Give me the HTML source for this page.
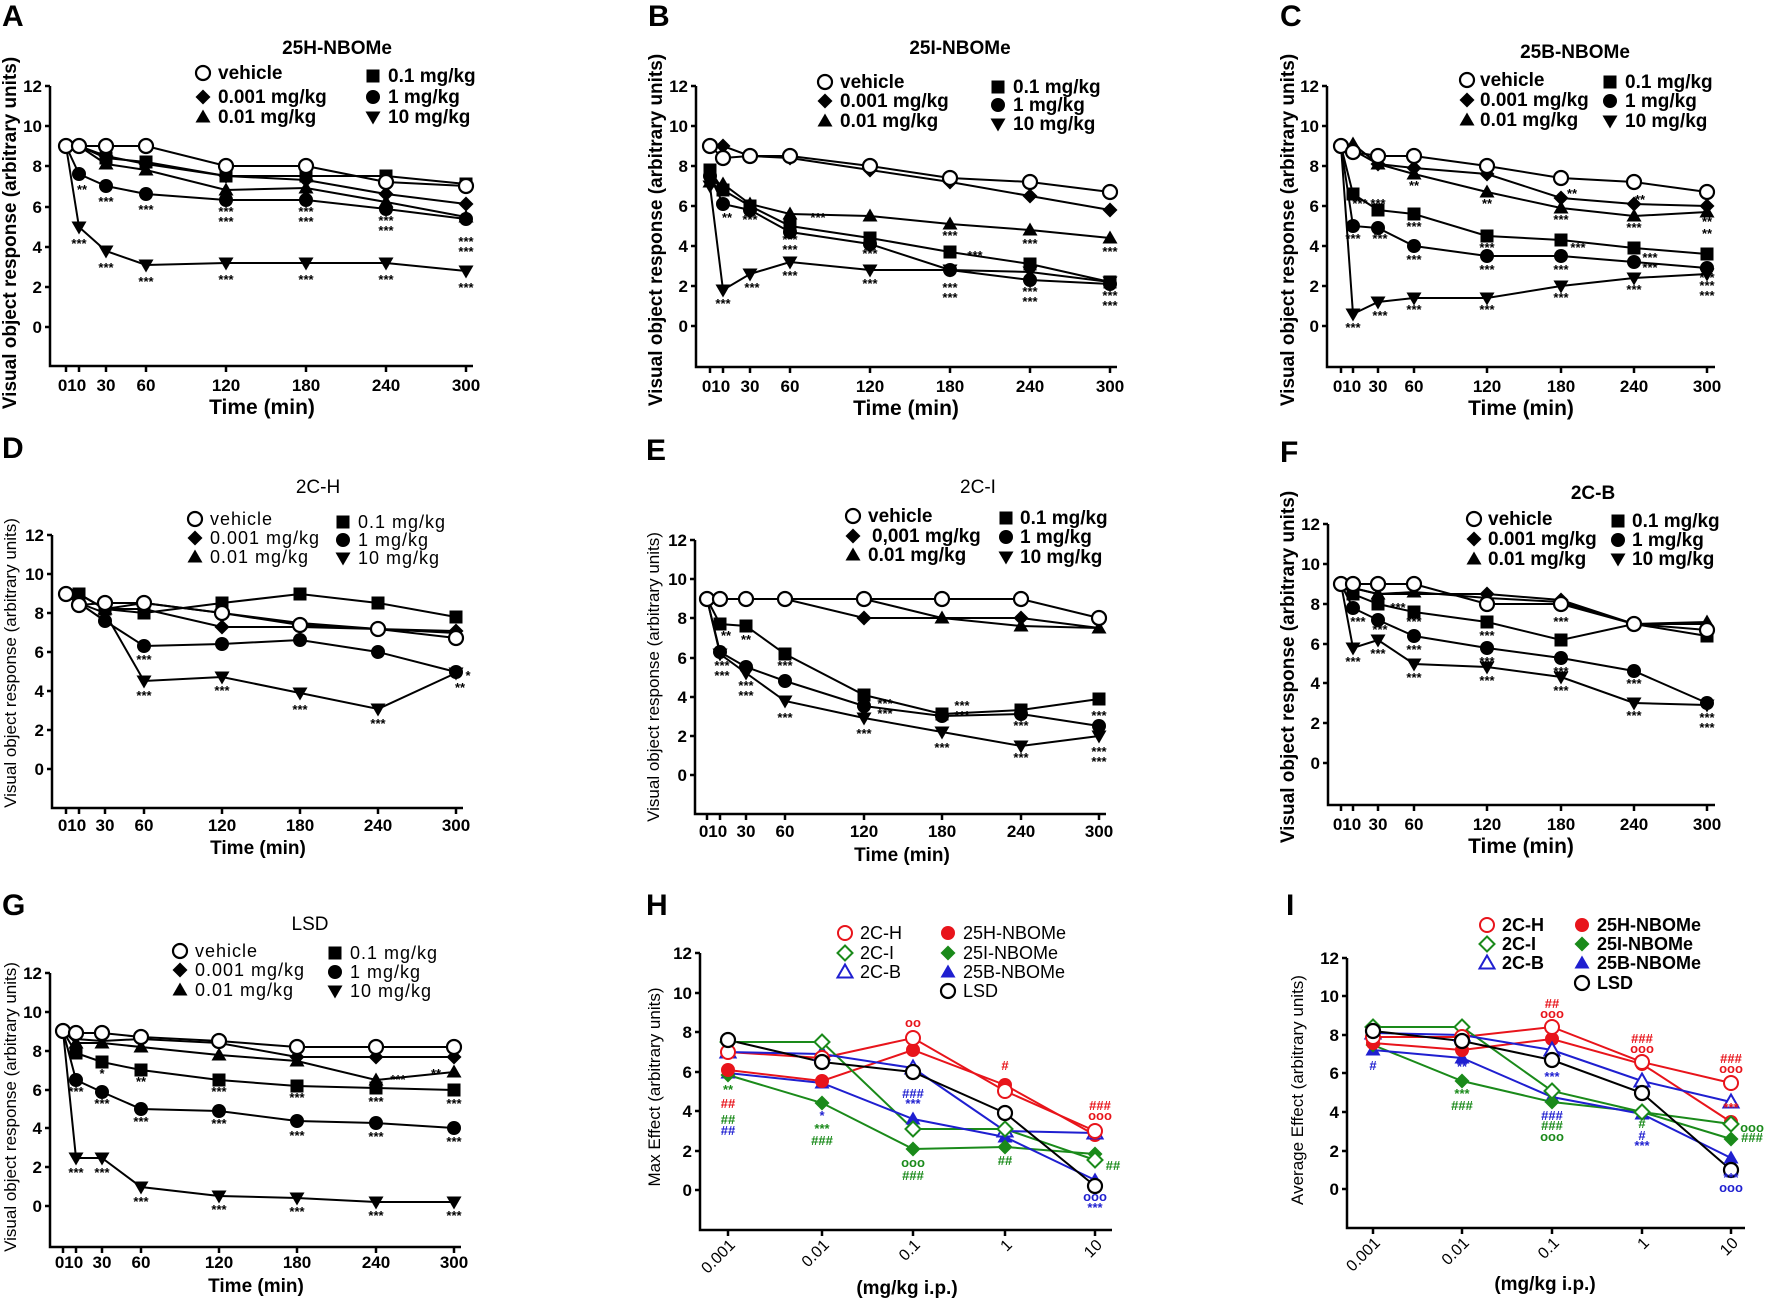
<!DOCTYPE html>
<html><head><meta charset="utf-8"><style>
body{margin:0;background:#fff}
svg{display:block;font-family:"Liberation Sans",Arial,sans-serif}
.ax{fill:none;stroke:#000;stroke-width:2.5}
.ln{fill:none;stroke:#000;stroke-width:2}
.o{fill:#fff;stroke:#000;stroke-width:2.2}
.f{fill:#000}
.tk{font-size:17px;font-weight:bold;text-anchor:end}
.tx{font-size:17px;font-weight:bold;text-anchor:middle}
.xl{font-size:21px;font-weight:bold;text-anchor:middle}
.yl{font-size:19px;font-weight:bold;text-anchor:middle}
.ti{font-size:19px;font-weight:bold;text-anchor:middle}
.lg{font-size:19px;font-weight:bold}
.pl{font-size:30px;font-weight:bold}
.st{font-size:13px;font-weight:bold;text-anchor:middle}
</style></head><body>
<svg width="1772" height="1299" viewBox="0 0 1772 1299" xmlns="http://www.w3.org/2000/svg">
<defs>
<circle id="c" r="7"/>
<path id="d" d="M0,-7.5L7.5,0L0,7.5L-7.5,0Z"/>
<path id="t" d="M0,-7.5L7.5,5.5H-7.5Z"/>
<rect id="s" x="-6.5" y="-6.5" width="13" height="13"/>
<path id="v" d="M0,7.5L7.5,-5.5H-7.5Z"/>
</defs>

<!-- ========== A ========== -->
<text class="pl" x="2" y="26">A</text>
<text class="ti" x="337" y="54">25H-NBOMe</text>
<g class="lg">
<use href="#c" x="203" y="73" class="o"/><text x="218" y="79">vehicle</text>
<use href="#d" x="203" y="97" class="f"/><text x="218" y="103">0.001 mg/kg</text>
<use href="#t" x="203" y="117" class="f"/><text x="218" y="123">0.01 mg/kg</text>
<use href="#s" x="373" y="76" class="f"/><text x="388" y="82">0.1 mg/kg</text>
<use href="#c" x="373" y="97" class="f"/><text x="388" y="103">1 mg/kg</text>
<use href="#v" x="373" y="117" class="f"/><text x="388" y="123">10 mg/kg</text>
</g>
<path class="ax" d="M50,86V366H473M45,86H50M45,126H50M45,166H50M45,207H50M45,247H50M45,287H50M45,327H50M66,366v6M79,366v6M106,366v6M146,366v6M226,366v6M306,366v6M386,366v6M466,366v6"/>
<g class="tk"><text x="42" y="92">12</text><text x="42" y="132">10</text><text x="42" y="172">8</text><text x="42" y="213">6</text><text x="42" y="253">4</text><text x="42" y="293">2</text><text x="42" y="333">0</text></g>
<g class="tx"><text x="72" y="391">010</text><text x="106" y="391">30</text><text x="146" y="391">60</text><text x="226" y="391">120</text><text x="306" y="391">180</text><text x="386" y="391">240</text><text x="466" y="391">300</text></g>
<text class="xl" x="262" y="414">Time (min)</text>
<text class="yl" transform="translate(16,233) rotate(-90)">Visual object response (arbitrary units)</text>
<g class="ln">
<polyline points="66,146 79,227 106,251 146,265 226,263 306,263 386,263 466,271"/>
<polyline points="66,146 79,174 106,186 146,194 226,200 306,200 386,209 466,219"/>
<polyline points="66,146 79,146 106,164 146,170 226,190 306,188 386,202 466,217"/>
<polyline points="66,146 79,146 106,156 146,164 226,176 306,180 386,194 466,204"/>
<polyline points="66,146 79,146 106,158 146,162 226,176 306,176 386,176 466,184"/>
<polyline points="66,146 79,146 106,146 146,146 226,166 306,166 386,182 466,186"/>
</g>
<g class="f">
<use href="#v" x="79" y="227"/><use href="#v" x="106" y="251"/><use href="#v" x="146" y="265"/><use href="#v" x="226" y="263"/><use href="#v" x="306" y="263"/><use href="#v" x="386" y="263"/><use href="#v" x="466" y="271"/>
<use href="#c" x="79" y="174"/><use href="#c" x="106" y="186"/><use href="#c" x="146" y="194"/><use href="#c" x="226" y="200"/><use href="#c" x="306" y="200"/><use href="#c" x="386" y="209"/><use href="#c" x="466" y="219"/>
<use href="#t" x="106" y="164"/><use href="#t" x="146" y="170"/><use href="#t" x="226" y="190"/><use href="#t" x="306" y="188"/><use href="#t" x="386" y="202"/><use href="#t" x="466" y="217"/>
<use href="#d" x="106" y="156"/><use href="#d" x="146" y="164"/><use href="#d" x="226" y="176"/><use href="#d" x="306" y="180"/><use href="#d" x="386" y="194"/><use href="#d" x="466" y="204"/>
<use href="#s" x="106" y="158"/><use href="#s" x="146" y="162"/><use href="#s" x="226" y="176"/><use href="#s" x="306" y="176"/><use href="#s" x="386" y="176"/><use href="#s" x="466" y="184"/>
</g>
<g class="o"><use href="#c" x="66" y="146"/><use href="#c" x="79" y="146"/><use href="#c" x="106" y="146"/><use href="#c" x="146" y="146"/><use href="#c" x="226" y="166"/><use href="#c" x="306" y="166"/><use href="#c" x="386" y="182"/><use href="#c" x="466" y="186"/></g>
<g class="st">
<text x="79" y="248">***</text><text x="106" y="272">***</text><text x="146" y="286">***</text><text x="226" y="284">***</text><text x="306" y="284">***</text><text x="386" y="284">***</text><text x="466" y="292">***</text>
<text x="82" y="194">**</text><text x="106" y="206">***</text><text x="146" y="214">***</text><text x="226" y="216">***</text><text x="226" y="226">***</text><text x="306" y="216">***</text><text x="306" y="226">***</text><text x="386" y="225">***</text><text x="386" y="235">***</text><text x="466" y="246">***</text><text x="466" y="256">***</text>
</g>

<!-- ========== B ========== -->
<text class="pl" x="648" y="26">B</text>
<text class="ti" x="960" y="54">25I-NBOMe</text>
<g class="lg">
<use href="#c" x="825" y="82" class="o"/><text x="840" y="88">vehicle</text>
<use href="#d" x="825" y="101" class="f"/><text x="840" y="107">0.001 mg/kg</text>
<use href="#t" x="825" y="121" class="f"/><text x="840" y="127">0.01 mg/kg</text>
<use href="#s" x="998" y="87" class="f"/><text x="1013" y="93">0.1 mg/kg</text>
<use href="#c" x="998" y="105" class="f"/><text x="1013" y="111">1 mg/kg</text>
<use href="#v" x="998" y="124" class="f"/><text x="1013" y="130">10 mg/kg</text>
</g>
<path class="ax" d="M696,86V367H1117M691,86H696M691,126H696M691,166H696M691,206H696M691,246H696M691,286H696M691,326H696M710,367v6M723,367v6M750,367v6M790,367v6M870,367v6M950,367v6M1030,367v6M1110,367v6"/>
<g class="tk"><text x="688" y="92">12</text><text x="688" y="132">10</text><text x="688" y="172">8</text><text x="688" y="212">6</text><text x="688" y="252">4</text><text x="688" y="292">2</text><text x="688" y="332">0</text></g>
<g class="tx"><text x="716" y="392">010</text><text x="750" y="392">30</text><text x="790" y="392">60</text><text x="870" y="392">120</text><text x="950" y="392">180</text><text x="1030" y="392">240</text><text x="1110" y="392">300</text></g>
<text class="xl" x="906" y="415">Time (min)</text>
<text class="yl" transform="translate(662,230) rotate(-90)">Visual object response (arbitrary units)</text>
<g class="ln">
<polyline points="710,186 723,290 750,274 790,262 870,270 950,270 1030,272 1110,282"/>
<polyline points="710,176 723,204 750,210 790,232 870,244 950,270 1030,280 1110,284"/>
<polyline points="710,170 723,190 750,206 790,226 870,238 950,252 1030,264 1110,282"/>
<polyline points="710,182 723,184 750,204 790,214 870,216 950,224 1030,230 1110,238"/>
<polyline points="710,146 723,146 750,156 790,158 870,170 950,182 1030,196 1110,210"/>
<polyline points="710,146 723,158 750,156 790,156 870,166 950,178 1030,182 1110,192"/>
</g>
<g class="f">
<use href="#v" x="710" y="186"/><use href="#v" x="723" y="290"/><use href="#v" x="750" y="274"/><use href="#v" x="790" y="262"/><use href="#v" x="870" y="270"/><use href="#v" x="950" y="270"/><use href="#v" x="1030" y="272"/><use href="#v" x="1110" y="282"/>
<use href="#c" x="710" y="176"/><use href="#c" x="723" y="204"/><use href="#c" x="750" y="210"/><use href="#c" x="790" y="232"/><use href="#c" x="870" y="244"/><use href="#c" x="950" y="270"/><use href="#c" x="1030" y="280"/><use href="#c" x="1110" y="284"/>
<use href="#s" x="710" y="170"/><use href="#s" x="723" y="190"/><use href="#s" x="750" y="206"/><use href="#s" x="790" y="226"/><use href="#s" x="870" y="238"/><use href="#s" x="950" y="252"/><use href="#s" x="1030" y="264"/><use href="#s" x="1110" y="282"/>
<use href="#t" x="710" y="182"/><use href="#t" x="723" y="184"/><use href="#t" x="750" y="204"/><use href="#t" x="790" y="214"/><use href="#t" x="870" y="216"/><use href="#t" x="950" y="224"/><use href="#t" x="1030" y="230"/><use href="#t" x="1110" y="238"/>
<use href="#d" x="723" y="146"/><use href="#d" x="750" y="156"/><use href="#d" x="790" y="158"/><use href="#d" x="870" y="170"/><use href="#d" x="950" y="182"/><use href="#d" x="1030" y="196"/><use href="#d" x="1110" y="210"/>
</g>
<g class="o"><use href="#c" x="710" y="146"/><use href="#c" x="723" y="158"/><use href="#c" x="750" y="156"/><use href="#c" x="790" y="156"/><use href="#c" x="870" y="166"/><use href="#c" x="950" y="178"/><use href="#c" x="1030" y="182"/><use href="#c" x="1110" y="192"/></g>
<g class="st">
<text x="723" y="308">***</text><text x="752" y="292">***</text><text x="790" y="280">***</text><text x="870" y="288">***</text><text x="950" y="292">***</text><text x="950" y="302">***</text><text x="1030" y="296">***</text><text x="1030" y="306">***</text><text x="1110" y="300">***</text><text x="1110" y="310">***</text>
<text x="727" y="222">**</text><text x="750" y="224">***</text><text x="790" y="244">***</text><text x="790" y="254">***</text><text x="870" y="258">***</text><text x="818" y="222">***</text><text x="975" y="260">***</text><text x="950" y="240">***</text><text x="1030" y="248">***</text><text x="1110" y="256">***</text>
</g>

<!-- ========== C ========== -->
<text class="pl" x="1280" y="26">C</text>
<text class="ti" x="1575" y="58">25B-NBOMe</text>
<g class="lg">
<use href="#c" x="1467" y="80" class="o"/><text x="1480" y="86">vehicle</text>
<use href="#d" x="1467" y="100" class="f"/><text x="1480" y="106">0.001 mg/kg</text>
<use href="#t" x="1467" y="120" class="f"/><text x="1480" y="126">0.01 mg/kg</text>
<use href="#s" x="1610" y="82" class="f"/><text x="1625" y="88">0.1 mg/kg</text>
<use href="#c" x="1610" y="101" class="f"/><text x="1625" y="107">1 mg/kg</text>
<use href="#v" x="1610" y="121" class="f"/><text x="1625" y="127">10 mg/kg</text>
</g>
<path class="ax" d="M1327,86V367H1715M1322,86H1327M1322,126H1327M1322,166H1327M1322,206H1327M1322,246H1327M1322,286H1327M1322,326H1327M1341,367v6M1353,367v6M1378,367v6M1414,367v6M1487,367v6M1561,367v6M1634,367v6M1707,367v6"/>
<g class="tk"><text x="1319" y="92">12</text><text x="1319" y="132">10</text><text x="1319" y="172">8</text><text x="1319" y="212">6</text><text x="1319" y="252">4</text><text x="1319" y="292">2</text><text x="1319" y="332">0</text></g>
<g class="tx"><text x="1347" y="392">010</text><text x="1378" y="392">30</text><text x="1414" y="392">60</text><text x="1487" y="392">120</text><text x="1561" y="392">180</text><text x="1634" y="392">240</text><text x="1707" y="392">300</text></g>
<text class="xl" x="1521" y="415">Time (min)</text>
<text class="yl" transform="translate(1294,230) rotate(-90)">Visual object response (arbitrary units)</text>
<g class="ln">
<polyline points="1341,146 1353,314 1378,302 1414,298 1487,298 1561,286 1634,278 1707,274"/>
<polyline points="1341,146 1353,226 1378,228 1414,246 1487,256 1561,256 1634,262 1707,268"/>
<polyline points="1341,146 1353,194 1378,210 1414,214 1487,236 1561,240 1634,248 1707,254"/>
<polyline points="1341,146 1353,144 1378,164 1414,174 1487,192 1561,208 1634,216 1707,212"/>
<polyline points="1341,146 1353,150 1378,164 1414,168 1487,174 1561,198 1634,204 1707,206"/>
<polyline points="1341,146 1353,152 1378,156 1414,156 1487,166 1561,178 1634,182 1707,192"/>
</g>
<g class="f">
<use href="#v" x="1353" y="314"/><use href="#v" x="1378" y="302"/><use href="#v" x="1414" y="298"/><use href="#v" x="1487" y="298"/><use href="#v" x="1561" y="286"/><use href="#v" x="1634" y="278"/><use href="#v" x="1707" y="274"/>
<use href="#c" x="1353" y="226"/><use href="#c" x="1378" y="228"/><use href="#c" x="1414" y="246"/><use href="#c" x="1487" y="256"/><use href="#c" x="1561" y="256"/><use href="#c" x="1634" y="262"/><use href="#c" x="1707" y="268"/>
<use href="#s" x="1353" y="194"/><use href="#s" x="1378" y="210"/><use href="#s" x="1414" y="214"/><use href="#s" x="1487" y="236"/><use href="#s" x="1561" y="240"/><use href="#s" x="1634" y="248"/><use href="#s" x="1707" y="254"/>
<use href="#t" x="1353" y="144"/><use href="#t" x="1378" y="164"/><use href="#t" x="1414" y="174"/><use href="#t" x="1487" y="192"/><use href="#t" x="1561" y="208"/><use href="#t" x="1634" y="216"/><use href="#t" x="1707" y="212"/>
<use href="#d" x="1378" y="164"/><use href="#d" x="1414" y="168"/><use href="#d" x="1487" y="174"/><use href="#d" x="1561" y="198"/><use href="#d" x="1634" y="204"/><use href="#d" x="1707" y="206"/>
</g>
<g class="o"><use href="#c" x="1341" y="146"/><use href="#c" x="1353" y="152"/><use href="#c" x="1378" y="156"/><use href="#c" x="1414" y="156"/><use href="#c" x="1487" y="166"/><use href="#c" x="1561" y="178"/><use href="#c" x="1634" y="182"/><use href="#c" x="1707" y="192"/></g>
<g class="st">
<text x="1353" y="332">***</text><text x="1380" y="320">***</text><text x="1414" y="314">***</text><text x="1487" y="314">***</text><text x="1561" y="302">***</text><text x="1634" y="294">***</text><text x="1707" y="290">***</text><text x="1707" y="300">***</text>
<text x="1353" y="243">***</text><text x="1380" y="243">***</text><text x="1414" y="264">***</text><text x="1487" y="274">***</text><text x="1561" y="274">***</text><text x="1650" y="272">***</text><text x="1707" y="282">***</text>
<text x="1360" y="208">***</text><text x="1378" y="208">***</text><text x="1414" y="231">***</text><text x="1487" y="252">***</text><text x="1578" y="252">***</text><text x="1650" y="262">***</text>
<text x="1414" y="190">**</text><text x="1487" y="208">**</text><text x="1572" y="198">**</text><text x="1640" y="204">**</text><text x="1561" y="224">***</text><text x="1634" y="232">***</text><text x="1707" y="226">**</text><text x="1707" y="238">**</text>
</g>

<!-- ========== D ========== -->
<text class="pl" x="2" y="458">D</text>
<text class="ti" x="318" y="493" style="font-weight:normal">2C-H</text>
<g class="lg" style="font-weight:normal;font-size:18px;letter-spacing:1px">
<use href="#c" x="195" y="519" class="o"/><text x="210" y="525">vehicle</text>
<use href="#d" x="195" y="538" class="f"/><text x="210" y="544">0.001 mg/kg</text>
<use href="#t" x="195" y="557" class="f"/><text x="210" y="563">0.01 mg/kg</text>
<use href="#s" x="343" y="522" class="f"/><text x="358" y="528">0.1 mg/kg</text>
<use href="#c" x="343" y="540" class="f"/><text x="358" y="546">1 mg/kg</text>
<use href="#v" x="343" y="558" class="f"/><text x="358" y="564">10 mg/kg</text>
</g>
<path class="ax" d="M52,535V808H463M47,535H52M47,574H52M47,613H52M47,652H52M47,691H52M47,730H52M47,769H52M66,808v6M79,808v6M105,808v6M144,808v6M222,808v6M300,808v6M378,808v6M456,808v6"/>
<g class="tk"><text x="44" y="541">12</text><text x="44" y="580">10</text><text x="44" y="619">8</text><text x="44" y="658">6</text><text x="44" y="697">4</text><text x="44" y="736">2</text><text x="44" y="775">0</text></g>
<g class="tx"><text x="72" y="831">010</text><text x="105" y="831">30</text><text x="144" y="831">60</text><text x="222" y="831">120</text><text x="300" y="831">180</text><text x="378" y="831">240</text><text x="456" y="831">300</text></g>
<text class="xl" x="258" y="854" style="font-size:19px">Time (min)</text>
<text class="yl" transform="translate(16,663) rotate(-90)" style="font-weight:normal;font-size:17px">Visual object response (arbitrary units)</text>
<g class="ln">
<polyline points="66,594 79,603 105,613 144,681 222,677 300,693 378,709 456,673"/>
<polyline points="66,594 79,603 105,621 144,646 222,644 300,640 378,652 456,672"/>
<polyline points="66,594 79,594 105,609 144,613 222,603 300,594 378,603 456,617"/>
<polyline points="66,594 79,594 105,609 144,603 222,613 300,623 378,629 456,633"/>
<polyline points="66,594 79,594 105,609 144,609 222,627 300,627 378,629 456,631"/>
<polyline points="66,594 79,605 105,603 144,603 222,613 300,625 378,629 456,638"/>
</g>
<g class="f">
<use href="#v" x="144" y="681"/><use href="#v" x="222" y="677"/><use href="#v" x="300" y="693"/><use href="#v" x="378" y="709"/><use href="#v" x="456" y="673"/>
<use href="#c" x="105" y="621"/><use href="#c" x="144" y="646"/><use href="#c" x="222" y="644"/><use href="#c" x="300" y="640"/><use href="#c" x="378" y="652"/><use href="#c" x="456" y="672"/>
<use href="#t" x="105" y="609"/><use href="#d" x="222" y="627"/><use href="#d" x="300" y="627"/><use href="#d" x="378" y="629"/><use href="#d" x="456" y="631"/>
<use href="#s" x="79" y="594"/><use href="#s" x="105" y="609"/><use href="#s" x="144" y="613"/><use href="#s" x="222" y="603"/><use href="#s" x="300" y="594"/><use href="#s" x="378" y="603"/><use href="#s" x="456" y="617"/>
</g>
<g class="o"><use href="#c" x="66" y="594"/><use href="#c" x="79" y="605"/><use href="#c" x="105" y="603"/><use href="#c" x="144" y="603"/><use href="#c" x="222" y="613"/><use href="#c" x="300" y="625"/><use href="#c" x="378" y="629"/><use href="#c" x="456" y="638"/></g>
<g class="st"><text x="144" y="664">***</text><text x="144" y="700">***</text><text x="222" y="695">***</text><text x="300" y="714">***</text><text x="378" y="728">***</text><text x="460" y="692">**</text><text x="468" y="680">*</text></g>

<!-- ========== E ========== -->
<text class="pl" x="646" y="460">E</text>
<text class="ti" x="978" y="493" style="font-weight:normal">2C-I</text>
<g class="lg">
<use href="#c" x="853" y="516" class="o"/><text x="868" y="522">vehicle</text>
<use href="#d" x="853" y="536" class="f"/><text x="872" y="542">0,001 mg/kg</text>
<use href="#t" x="853" y="555" class="f"/><text x="868" y="561">0.01 mg/kg</text>
<use href="#s" x="1006" y="518" class="f"/><text x="1020" y="524">0.1 mg/kg</text>
<use href="#c" x="1006" y="537" class="f"/><text x="1020" y="543">1 mg/kg</text>
<use href="#v" x="1006" y="557" class="f"/><text x="1020" y="563">10 mg/kg</text>
</g>
<path class="ax" d="M695,540V814H1106M690,540H695M690,579H695M690,618H695M690,658H695M690,697H695M690,736H695M690,775H695M707,814v6M720,814v6M746,814v6M785,814v6M864,814v6M942,814v6M1021,814v6M1099,814v6"/>
<g class="tk"><text x="687" y="546">12</text><text x="687" y="585">10</text><text x="687" y="624">8</text><text x="687" y="664">6</text><text x="687" y="703">4</text><text x="687" y="742">2</text><text x="687" y="781">0</text></g>
<g class="tx"><text x="713" y="837">010</text><text x="746" y="837">30</text><text x="785" y="837">60</text><text x="864" y="837">120</text><text x="942" y="837">180</text><text x="1021" y="837">240</text><text x="1099" y="837">300</text></g>
<text class="xl" x="902" y="861" style="font-size:19px">Time (min)</text>
<text class="yl" transform="translate(659,677) rotate(-90)" style="font-weight:normal;font-size:17px">Visual object response (arbitrary units)</text>
<g class="ln">
<polyline points="707,599 720,654 746,673 785,701 864,718 942,732 1021,746 1099,736"/>
<polyline points="707,599 720,652 746,667 785,681 864,706 942,716 1021,714 1099,726"/>
<polyline points="707,599 720,624 746,626 785,654 864,695 942,714 1021,710 1099,699"/>
<polyline points="707,599 720,599 746,599 785,599 864,599 942,618 1021,626 1099,628"/>
<polyline points="707,599 720,599 746,599 785,599 864,618 942,618 1021,618 1099,628"/>
<polyline points="707,599 720,599 746,599 785,599 864,599 942,599 1021,599 1099,618"/>
</g>
<g class="f">
<use href="#v" x="720" y="654"/><use href="#v" x="746" y="673"/><use href="#v" x="785" y="701"/><use href="#v" x="864" y="718"/><use href="#v" x="942" y="732"/><use href="#v" x="1021" y="746"/><use href="#v" x="1099" y="736"/>
<use href="#c" x="720" y="652"/><use href="#c" x="746" y="667"/><use href="#c" x="785" y="681"/><use href="#c" x="864" y="706"/><use href="#c" x="942" y="716"/><use href="#c" x="1021" y="714"/><use href="#c" x="1099" y="726"/>
<use href="#s" x="720" y="624"/><use href="#s" x="746" y="626"/><use href="#s" x="785" y="654"/><use href="#s" x="864" y="695"/><use href="#s" x="942" y="714"/><use href="#s" x="1021" y="710"/><use href="#s" x="1099" y="699"/>
<use href="#t" x="942" y="618"/><use href="#t" x="1021" y="626"/><use href="#t" x="1099" y="628"/>
<use href="#d" x="864" y="618"/><use href="#d" x="1021" y="618"/>
</g>
<g class="o"><use href="#c" x="707" y="599"/><use href="#c" x="720" y="599"/><use href="#c" x="746" y="599"/><use href="#c" x="785" y="599"/><use href="#c" x="864" y="599"/><use href="#c" x="942" y="599"/><use href="#c" x="1021" y="599"/><use href="#c" x="1099" y="618"/></g>
<g class="st"><text x="722" y="670">***</text><text x="722" y="680">***</text><text x="746" y="690">***</text><text x="746" y="700">***</text><text x="785" y="722">***</text><text x="864" y="738">***</text><text x="942" y="752">***</text><text x="1021" y="762">***</text><text x="1099" y="756">***</text><text x="1099" y="766">***</text><text x="726" y="640">**</text><text x="746" y="644">**</text><text x="785" y="670">***</text><text x="885" y="708">***</text><text x="885" y="718">***</text><text x="962" y="710">***</text><text x="962" y="720">***</text><text x="1099" y="720">***</text><text x="1021" y="730">***</text></g>

<!-- ========== F ========== -->
<text class="pl" x="1280" y="462">F</text>
<text class="ti" x="1593" y="499">2C-B</text>
<g class="lg">
<use href="#c" x="1474" y="519" class="o"/><text x="1488" y="525">vehicle</text>
<use href="#d" x="1474" y="539" class="f"/><text x="1488" y="545">0.001 mg/kg</text>
<use href="#t" x="1474" y="559" class="f"/><text x="1488" y="565">0.01 mg/kg</text>
<use href="#s" x="1618" y="521" class="f"/><text x="1632" y="527">0.1 mg/kg</text>
<use href="#c" x="1618" y="540" class="f"/><text x="1632" y="546">1 mg/kg</text>
<use href="#v" x="1618" y="559" class="f"/><text x="1632" y="565">10 mg/kg</text>
</g>
<path class="ax" d="M1328,524V805H1715M1323,524H1328M1323,564H1328M1323,604H1328M1323,644H1328M1323,683H1328M1323,723H1328M1323,763H1328M1341,805v6M1353,805v6M1378,805v6M1414,805v6M1487,805v6M1561,805v6M1634,805v6M1707,805v6"/>
<g class="tk"><text x="1320" y="530">12</text><text x="1320" y="570">10</text><text x="1320" y="610">8</text><text x="1320" y="650">6</text><text x="1320" y="689">4</text><text x="1320" y="729">2</text><text x="1320" y="769">0</text></g>
<g class="tx"><text x="1347" y="830">010</text><text x="1378" y="830">30</text><text x="1414" y="830">60</text><text x="1487" y="830">120</text><text x="1561" y="830">180</text><text x="1634" y="830">240</text><text x="1707" y="830">300</text></g>
<text class="xl" x="1521" y="853">Time (min)</text>
<text class="yl" transform="translate(1294,667) rotate(-90)">Visual object response (arbitrary units)</text>
<g class="ln">
<polyline points="1341,584 1353,648 1378,640 1414,664 1487,667 1561,677 1634,703 1707,705"/>
<polyline points="1341,584 1353,608 1378,620 1414,636 1487,648 1561,658 1634,671 1707,703"/>
<polyline points="1341,584 1353,594 1378,604 1414,612 1487,622 1561,640 1634,624 1707,636"/>
<polyline points="1341,584 1353,588 1378,594 1414,592 1487,598 1561,602 1634,624 1707,622"/>
<polyline points="1341,584 1353,588 1378,594 1414,594 1487,594 1561,600 1634,624 1707,624"/>
<polyline points="1341,584 1353,584 1378,584 1414,584 1487,604 1561,604 1634,624 1707,630"/>
</g>
<g class="f">
<use href="#v" x="1353" y="648"/><use href="#v" x="1378" y="640"/><use href="#v" x="1414" y="664"/><use href="#v" x="1487" y="667"/><use href="#v" x="1561" y="677"/><use href="#v" x="1634" y="703"/><use href="#v" x="1707" y="705"/>
<use href="#c" x="1353" y="608"/><use href="#c" x="1378" y="620"/><use href="#c" x="1414" y="636"/><use href="#c" x="1487" y="648"/><use href="#c" x="1561" y="658"/><use href="#c" x="1634" y="671"/><use href="#c" x="1707" y="703"/>
<use href="#s" x="1353" y="594"/><use href="#s" x="1378" y="604"/><use href="#s" x="1414" y="612"/><use href="#s" x="1487" y="622"/><use href="#s" x="1561" y="640"/><use href="#s" x="1707" y="636"/>
<use href="#t" x="1378" y="594"/><use href="#t" x="1414" y="592"/><use href="#t" x="1487" y="598"/><use href="#t" x="1561" y="602"/><use href="#t" x="1707" y="622"/>
<use href="#d" x="1487" y="594"/><use href="#d" x="1561" y="600"/>
</g>
<g class="o"><use href="#c" x="1341" y="584"/><use href="#c" x="1353" y="584"/><use href="#c" x="1378" y="584"/><use href="#c" x="1414" y="584"/><use href="#c" x="1487" y="604"/><use href="#c" x="1561" y="604"/><use href="#c" x="1634" y="624"/><use href="#c" x="1707" y="630"/></g>
<g class="st"><text x="1353" y="666">***</text><text x="1378" y="658">***</text><text x="1414" y="682">***</text><text x="1487" y="685">***</text><text x="1561" y="695">***</text><text x="1634" y="720">***</text><text x="1707" y="722">***</text><text x="1707" y="732">***</text><text x="1358" y="626">***</text><text x="1380" y="634">***</text><text x="1414" y="654">***</text><text x="1487" y="666">***</text><text x="1561" y="676">***</text><text x="1634" y="688">***</text><text x="1398" y="612">***</text><text x="1414" y="626">***</text><text x="1487" y="640">***</text><text x="1561" y="626">***</text></g>

<!-- ========== G ========== -->
<text class="pl" x="2" y="915">G</text>
<text class="ti" x="310" y="930" style="font-weight:normal">LSD</text>
<g class="lg" style="font-weight:normal;font-size:18px;letter-spacing:1px">
<use href="#c" x="180" y="951" class="o"/><text x="195" y="957">vehicle</text>
<use href="#d" x="180" y="970" class="f"/><text x="195" y="976">0.001 mg/kg</text>
<use href="#t" x="180" y="990" class="f"/><text x="195" y="996">0.01 mg/kg</text>
<use href="#s" x="335" y="953" class="f"/><text x="350" y="959">0.1 mg/kg</text>
<use href="#c" x="335" y="972" class="f"/><text x="350" y="978">1 mg/kg</text>
<use href="#v" x="335" y="991" class="f"/><text x="350" y="997">10 mg/kg</text>
</g>
<path class="ax" d="M50,973V1247H461M45,973H50M45,1012H50M45,1051H50M45,1090H50M45,1128H50M45,1167H50M45,1206H50M63,1247v6M76,1247v6M102,1247v6M141,1247v6M219,1247v6M297,1247v6M376,1247v6M454,1247v6"/>
<g class="tk"><text x="42" y="979">12</text><text x="42" y="1018">10</text><text x="42" y="1057">8</text><text x="42" y="1096">6</text><text x="42" y="1134">4</text><text x="42" y="1173">2</text><text x="42" y="1212">0</text></g>
<g class="tx"><text x="69" y="1268">010</text><text x="102" y="1268">30</text><text x="141" y="1268">60</text><text x="219" y="1268">120</text><text x="297" y="1268">180</text><text x="376" y="1268">240</text><text x="454" y="1268">300</text></g>
<text class="xl" x="256" y="1292" style="font-size:19px">Time (min)</text>
<text class="yl" transform="translate(16,1107) rotate(-90)" style="font-weight:normal;font-size:17px">Visual object response (arbitrary units)</text>
<g class="ln">
<polyline points="63,1031 76,1158 102,1158 141,1187 219,1196 297,1198 376,1202 454,1202"/>
<polyline points="63,1031 76,1080 102,1092 141,1109 219,1111 297,1121 376,1123 454,1128"/>
<polyline points="63,1031 76,1053 102,1062 141,1070 219,1080 297,1086 376,1088 454,1090"/>
<polyline points="63,1031 76,1043 102,1043 141,1047 219,1055 297,1061 376,1080 454,1072"/>
<polyline points="63,1031 76,1039 102,1041 141,1039 219,1043 297,1057 376,1057 454,1057"/>
<polyline points="63,1031 76,1033 102,1033 141,1037 219,1041 297,1047 376,1047 454,1047"/>
</g>
<g class="f">
<use href="#v" x="76" y="1158"/><use href="#v" x="102" y="1158"/><use href="#v" x="141" y="1187"/><use href="#v" x="219" y="1196"/><use href="#v" x="297" y="1198"/><use href="#v" x="376" y="1202"/><use href="#v" x="454" y="1202"/>
<use href="#c" x="76" y="1080"/><use href="#c" x="102" y="1092"/><use href="#c" x="141" y="1109"/><use href="#c" x="219" y="1111"/><use href="#c" x="297" y="1121"/><use href="#c" x="376" y="1123"/><use href="#c" x="454" y="1128"/>
<use href="#s" x="76" y="1053"/><use href="#s" x="102" y="1062"/><use href="#s" x="141" y="1070"/><use href="#s" x="219" y="1080"/><use href="#s" x="297" y="1086"/><use href="#s" x="376" y="1088"/><use href="#s" x="454" y="1090"/>
<use href="#t" x="76" y="1043"/><use href="#t" x="102" y="1043"/><use href="#t" x="141" y="1047"/><use href="#t" x="219" y="1055"/><use href="#t" x="297" y="1061"/><use href="#t" x="376" y="1080"/><use href="#t" x="454" y="1072"/>
<use href="#d" x="297" y="1057"/><use href="#d" x="376" y="1057"/><use href="#d" x="454" y="1057"/>
</g>
<g class="o"><use href="#c" x="63" y="1031"/><use href="#c" x="76" y="1033"/><use href="#c" x="102" y="1033"/><use href="#c" x="141" y="1037"/><use href="#c" x="219" y="1041"/><use href="#c" x="297" y="1047"/><use href="#c" x="376" y="1047"/><use href="#c" x="454" y="1047"/></g>
<g class="st"><text x="76" y="1177">***</text><text x="102" y="1177">***</text><text x="141" y="1206">***</text><text x="219" y="1214">***</text><text x="297" y="1216">***</text><text x="376" y="1220">***</text><text x="454" y="1220">***</text><text x="76" y="1096">***</text><text x="102" y="1108">***</text><text x="141" y="1126">***</text><text x="219" y="1128">***</text><text x="297" y="1140">***</text><text x="376" y="1141">***</text><text x="454" y="1146">***</text><text x="102" y="1078">*</text><text x="141" y="1086">**</text><text x="219" y="1096">***</text><text x="297" y="1102">***</text><text x="376" y="1106">***</text><text x="454" y="1108">***</text><text x="398" y="1084">***</text><text x="436" y="1078">**</text></g>

<!-- ========== H ========== -->
<text class="pl" x="646" y="915">H</text>
<g class="lg" style="font-weight:normal;font-size:18px">
<use href="#c" x="845" y="933" style="fill:#fff;stroke:#e8141b;stroke-width:2"/><text x="860" y="939">2C-H</text>
<use href="#d" x="845" y="953" style="fill:#fff;stroke:#1a8a1a;stroke-width:2"/><text x="860" y="959">2C-I</text>
<use href="#t" x="845" y="972" style="fill:#fff;stroke:#1f1fd0;stroke-width:2"/><text x="860" y="978">2C-B</text>
<use href="#c" x="948" y="933" style="fill:#e8141b"/><text x="963" y="939">25H-NBOMe</text>
<use href="#d" x="948" y="953" style="fill:#1a8a1a"/><text x="963" y="959">25I-NBOMe</text>
<use href="#t" x="948" y="972" style="fill:#1f1fd0"/><text x="963" y="978">25B-NBOMe</text>
<use href="#c" x="948" y="991" class="o"/><text x="963" y="997">LSD</text>
</g>
<path class="ax" d="M700,953V1230H1112M695,953H700M695,993H700M695,1032H700M695,1072H700M695,1111H700M695,1151H700M695,1190H700M728,1230v6M822,1230v6M913,1230v6M1005,1230v6M1095,1230v6"/>
<g class="tk"><text x="692" y="959">12</text><text x="692" y="999">10</text><text x="692" y="1038">8</text><text x="692" y="1078">6</text><text x="692" y="1117">4</text><text x="692" y="1157">2</text><text x="692" y="1196">0</text></g>
<g class="tk" style="font-weight:normal;font-size:16px">
<text transform="translate(736,1246) rotate(-45)">0.001</text><text transform="translate(830,1246) rotate(-45)">0.01</text><text transform="translate(921,1246) rotate(-45)">0.1</text><text transform="translate(1013,1246) rotate(-45)">1</text><text transform="translate(1103,1246) rotate(-45)">10</text></g>
<text class="xl" x="907" y="1294" style="font-size:19px">(mg/kg i.p.)</text>
<text class="yl" transform="translate(660,1087) rotate(-90)" style="font-weight:normal;font-size:17px">Max Effect (arbitrary units)</text>
<g class="ln" style="stroke:#e8141b"><polyline points="728,1052 822,1058 913,1038 1005,1091 1095,1131"/><polyline points="728,1070 822,1081 913,1050 1005,1085 1095,1135"/></g>
<g class="ln" style="stroke:#1a8a1a"><polyline points="728,1042 822,1042 913,1129 1005,1129 1095,1160"/><polyline points="728,1075 822,1103 913,1149 1005,1147 1095,1154"/></g>
<g class="ln" style="stroke:#1f1fd0"><polyline points="728,1052 822,1054 913,1068 1005,1131 1095,1133"/><polyline points="728,1073 822,1083 913,1119 1005,1137 1095,1180"/></g>
<g class="ln"><polyline points="728,1040 822,1062 913,1072 1005,1113 1095,1186"/></g>
<g style="fill:#1f1fd0"><use href="#t" x="728" y="1073"/><use href="#t" x="822" y="1083"/><use href="#t" x="913" y="1119"/><use href="#t" x="1005" y="1137"/><use href="#t" x="1095" y="1180"/></g>
<g style="fill:#1a8a1a"><use href="#d" x="728" y="1075"/><use href="#d" x="822" y="1103"/><use href="#d" x="913" y="1149"/><use href="#d" x="1005" y="1147"/><use href="#d" x="1095" y="1154"/></g>
<g style="fill:#e8141b"><use href="#c" x="728" y="1070"/><use href="#c" x="822" y="1081"/><use href="#c" x="913" y="1050"/><use href="#c" x="1005" y="1085"/><use href="#c" x="1095" y="1135"/></g>
<g style="fill:#fff;stroke:#1f1fd0;stroke-width:2"><use href="#t" x="728" y="1052"/><use href="#t" x="822" y="1054"/><use href="#t" x="913" y="1068"/><use href="#t" x="1005" y="1131"/><use href="#t" x="1095" y="1133"/></g>
<g style="fill:#fff;stroke:#1a8a1a;stroke-width:2"><use href="#d" x="728" y="1042"/><use href="#d" x="822" y="1042"/><use href="#d" x="913" y="1129"/><use href="#d" x="1005" y="1129"/><use href="#d" x="1095" y="1160"/></g>
<g style="fill:#fff;stroke:#e8141b;stroke-width:2"><use href="#c" x="728" y="1052"/><use href="#c" x="822" y="1058"/><use href="#c" x="913" y="1038"/><use href="#c" x="1005" y="1091"/><use href="#c" x="1095" y="1131"/></g>
<g class="o"><use href="#c" x="728" y="1040"/><use href="#c" x="822" y="1062"/><use href="#c" x="913" y="1072"/><use href="#c" x="1005" y="1113"/><use href="#c" x="1095" y="1186"/></g>
<g class="st">
<g style="fill:#e8141b"><text x="728" y="1108">##</text><text x="913" y="1027">oo</text><text x="1005" y="1070">#</text><text x="1100" y="1110">###</text><text x="1100" y="1120">ooo</text></g>
<g style="fill:#1a8a1a"><text x="728" y="1094">**</text><text x="728" y="1124">##</text><text x="822" y="1133">***</text><text x="822" y="1145">###</text><text x="913" y="1167">ooo</text><text x="913" y="1180">###</text><text x="1005" y="1165">##</text><text x="1113" y="1170">##</text></g>
<g style="fill:#1f1fd0"><text x="728" y="1135">##</text><text x="822" y="1120">*</text><text x="913" y="1098">###</text><text x="913" y="1108">***</text><text x="1095" y="1201">ooo</text><text x="1095" y="1212">***</text></g>
</g>

<!-- ========== I ========== -->
<text class="pl" x="1286" y="915">I</text>
<g class="lg" style="font-size:18px">
<use href="#c" x="1487" y="925" style="fill:#fff;stroke:#e8141b;stroke-width:2"/><text x="1502" y="931">2C-H</text>
<use href="#d" x="1487" y="944" style="fill:#fff;stroke:#1a8a1a;stroke-width:2"/><text x="1502" y="950">2C-I</text>
<use href="#t" x="1487" y="963" style="fill:#fff;stroke:#1f1fd0;stroke-width:2"/><text x="1502" y="969">2C-B</text>
<use href="#c" x="1582" y="925" style="fill:#e8141b"/><text x="1597" y="931">25H-NBOMe</text>
<use href="#d" x="1582" y="944" style="fill:#1a8a1a"/><text x="1597" y="950">25I-NBOMe</text>
<use href="#t" x="1582" y="963" style="fill:#1f1fd0"/><text x="1597" y="969">25B-NBOMe</text>
<use href="#c" x="1582" y="983" class="o"/><text x="1597" y="989">LSD</text>
</g>
<path class="ax" d="M1347,958V1228H1745M1342,958H1347M1342,996H1347M1342,1035H1347M1342,1073H1347M1342,1112H1347M1342,1151H1347M1342,1189H1347M1373,1228v6M1462,1228v6M1552,1228v6M1642,1228v6M1731,1228v6"/>
<g class="tk"><text x="1339" y="964">12</text><text x="1339" y="1002">10</text><text x="1339" y="1041">8</text><text x="1339" y="1079">6</text><text x="1339" y="1118">4</text><text x="1339" y="1157">2</text><text x="1339" y="1195">0</text></g>
<g class="tk" style="font-weight:normal;font-size:16px">
<text transform="translate(1381,1244) rotate(-45)">0.001</text><text transform="translate(1470,1244) rotate(-45)">0.01</text><text transform="translate(1560,1244) rotate(-45)">0.1</text><text transform="translate(1650,1244) rotate(-45)">1</text><text transform="translate(1739,1244) rotate(-45)">10</text></g>
<text class="xl" x="1545" y="1290" style="font-size:19px">(mg/kg i.p.)</text>
<text class="yl" transform="translate(1303,1090) rotate(-90)" style="font-weight:normal;font-size:17px">Average Effect (arbitrary units)</text>
<g class="ln" style="stroke:#e8141b"><polyline points="1373,1037 1462,1037 1552,1027 1642,1062 1731,1083"/><polyline points="1373,1043 1462,1050 1552,1039 1642,1064 1731,1122"/></g>
<g class="ln" style="stroke:#1a8a1a"><polyline points="1373,1027 1462,1027 1552,1091 1642,1112 1731,1124"/><polyline points="1373,1045 1462,1081 1552,1102 1642,1112 1731,1139"/></g>
<g class="ln" style="stroke:#1f1fd0"><polyline points="1373,1033 1462,1035 1552,1050 1642,1081 1731,1102"/><polyline points="1373,1050 1462,1058 1552,1097 1642,1114 1731,1158"/></g>
<g class="ln"><polyline points="1373,1031 1462,1041 1552,1060 1642,1093 1731,1170"/></g>
<g style="fill:#1f1fd0"><use href="#t" x="1373" y="1050"/><use href="#t" x="1462" y="1058"/><use href="#t" x="1552" y="1097"/><use href="#t" x="1642" y="1114"/><use href="#t" x="1731" y="1158"/></g>
<g style="fill:#1a8a1a"><use href="#d" x="1373" y="1045"/><use href="#d" x="1462" y="1081"/><use href="#d" x="1552" y="1102"/><use href="#d" x="1642" y="1112"/><use href="#d" x="1731" y="1139"/></g>
<g style="fill:#e8141b"><use href="#c" x="1373" y="1043"/><use href="#c" x="1462" y="1050"/><use href="#c" x="1552" y="1039"/><use href="#c" x="1642" y="1064"/><use href="#c" x="1731" y="1122"/></g>
<g style="fill:#fff;stroke:#1f1fd0;stroke-width:2"><use href="#t" x="1373" y="1033"/><use href="#t" x="1462" y="1035"/><use href="#t" x="1552" y="1050"/><use href="#t" x="1642" y="1081"/><use href="#t" x="1731" y="1102"/></g>
<g style="fill:#fff;stroke:#1a8a1a;stroke-width:2"><use href="#d" x="1373" y="1027"/><use href="#d" x="1462" y="1027"/><use href="#d" x="1552" y="1091"/><use href="#d" x="1642" y="1112"/><use href="#d" x="1731" y="1124"/></g>
<g style="fill:#fff;stroke:#e8141b;stroke-width:2"><use href="#c" x="1373" y="1037"/><use href="#c" x="1462" y="1037"/><use href="#c" x="1552" y="1027"/><use href="#c" x="1642" y="1062"/><use href="#c" x="1731" y="1083"/></g>
<g class="o"><use href="#c" x="1373" y="1031"/><use href="#c" x="1462" y="1041"/><use href="#c" x="1552" y="1060"/><use href="#c" x="1642" y="1093"/><use href="#c" x="1731" y="1170"/></g>
<g class="st">
<g style="fill:#e8141b"><text x="1552" y="1008">##</text><text x="1552" y="1018">ooo</text><text x="1642" y="1043">###</text><text x="1642" y="1053">ooo</text><text x="1731" y="1063">###</text><text x="1731" y="1073">ooo</text><text x="1731" y="1112">***</text></g>
<g style="fill:#1a8a1a"><text x="1462" y="1098">***</text><text x="1462" y="1110">###</text><text x="1552" y="1130">###</text><text x="1552" y="1141">ooo</text><text x="1642" y="1128">#</text><text x="1752" y="1142">###</text><text x="1752" y="1132">ooo</text></g>
<g style="fill:#1f1fd0"><text x="1373" y="1070">#</text><text x="1462" y="1071">**</text><text x="1552" y="1081">***</text><text x="1552" y="1120">###</text><text x="1642" y="1140">#</text><text x="1642" y="1150">***</text><text x="1731" y="1182">***</text><text x="1731" y="1192">ooo</text></g>
</g>
</svg>
</body></html>
